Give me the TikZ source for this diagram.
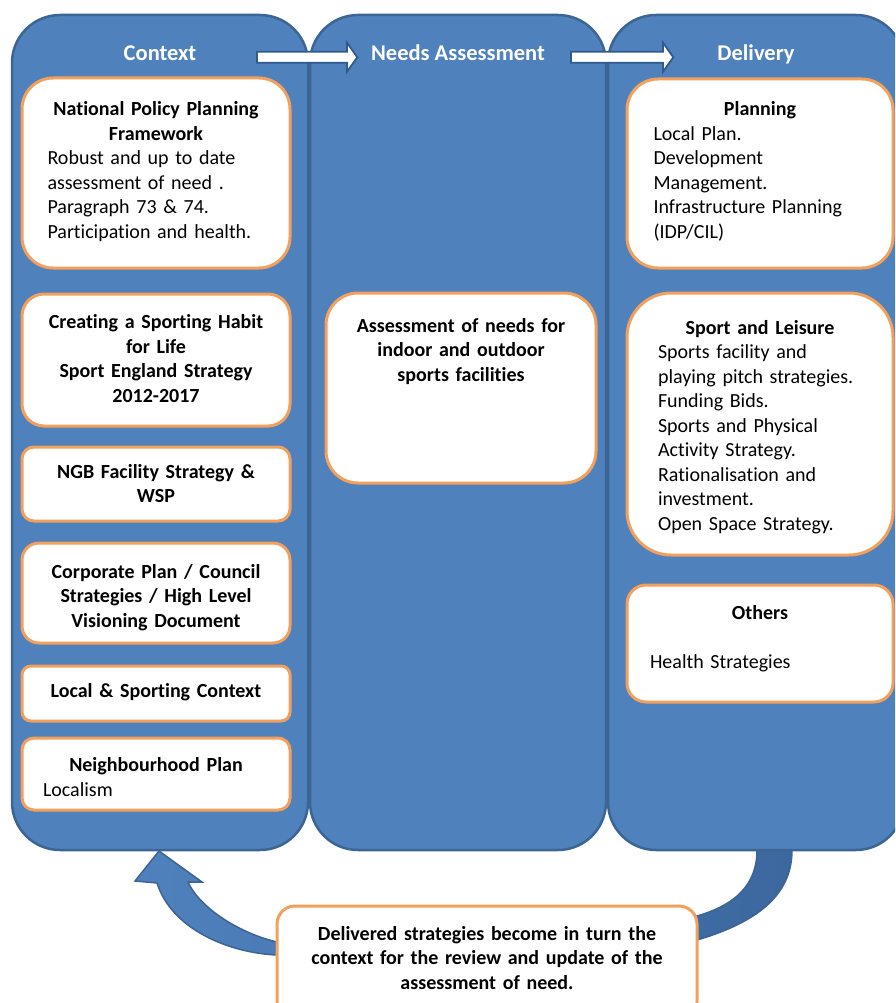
\documentclass[tikz,border=0pt]{standalone}
\usepackage{fontspec}
\setmainfont{Carlito}[Ligatures={NoCommon}]
\usetikzlibrary{positioning}

\definecolor{colfill}{HTML}{4F81BD}
\definecolor{colline}{HTML}{3A6594}
\definecolor{cardline}{HTML}{F2A05C}
\definecolor{bandlight}{HTML}{4F81BD}
\definecolor{banddark}{HTML}{3C679F}
\definecolor{arrline}{HTML}{2F5A8E}

\tikzset{
  colbox/.style={draw=colline, line width=2.5pt, fill=colfill, rounded corners=48pt,
                 minimum width=296pt, minimum height=835pt, inner sep=0pt},
  headtxt/.style={text=white, font=\fontsize{22.5}{27}\selectfont\bfseries, anchor=base, inner sep=0pt},
  card/.style={draw=cardline, line width=3pt, fill=white, rounded corners=#1, inner sep=0pt},
  cardtxt/.style={font=\fontsize{20}{24.5}\selectfont, inner sep=0pt, anchor=base, align=left},
  cardhead/.style={font=\fontsize{20}{24.5}\selectfont\bfseries, inner sep=0pt, anchor=base,
                   align=center, text width=250pt},
  hdrarrow/.style={draw=arrline, line width=1.8pt, fill=white, line join=miter},
  band/.style={draw=colline, line width=1.5pt, left color=bandlight, right color=banddark}
}

\begin{document}
\begin{tikzpicture}[x=1pt, y=-1pt]
\useasboundingbox (0,0) rectangle (895,1003);
\clip (0,0) rectangle (895,1003);

% loop back from delivery to context
\draw[band] (757,840) -- (757,850) .. controls (757,885) and (735,905) .. (697,916)
  -- (277,942) .. controls (235,932) and (198,905) .. (188,882)
  -- (202,882) -- (159,851) -- (135,881) -- (157,883)
  .. controls (172,930) and (230,953) .. (277,955)
  -- (697,940) .. controls (765,920) and (792,890) .. (792,850) -- (792,840) -- cycle;

% the three columns
\node[colbox] (ctxcol)  at (160,432.5) {};
\node[colbox] (needcol) at (458,432.5) {};
\node[colbox] (delcol)  at (756,432.5) {};

\node[headtxt] (ctx)  at (160,61) {Context};
\node[headtxt] (need) at (458,61) {Needs Assessment};
\node[headtxt] (del)  at (756,61) {Delivery};

\coordinate (arrA) at (257,57.3);
\coordinate (arrB) at (571,57.3);
\draw[hdrarrow] (arrA) ++(0,-5.6) -- ++(90,0) -- ++(0,-9) -- ++(10.3,14.6)
  -- ++(-10.3,14.4) -- ++(0,-9) -- ++(-90,0) -- cycle;
\draw[hdrarrow] (arrB) ++(0,-5.6) -- ++(92,0) -- ++(0,-9) -- ++(10.3,14.6)
  -- ++(-10.3,14.4) -- ++(0,-9) -- ++(-92,0) -- cycle;

% context
\node[card=31pt, minimum width=268pt, minimum height=190pt] (nppf) at (156,173) {};
\node[cardtxt, text width=217pt] (nppftxt) at (156,116)
  {{\centering\bfseries National Policy Planning\\ Framework\par}Robust and up to date\\
   assessment of need .\\ Paragraph 73 \& 74.\\ Participation and health.};

\node[card=22pt, minimum width=268pt, minimum height=132pt] (habit) at (156,360) {};
\node[cardhead] (habittxt) at (156,328.5)
  {Creating a Sporting Habit\\ for Life\\ Sport England Strategy\\ 2012-2017};

\node[card=12pt, minimum width=268pt, minimum height=74pt] (ngb) at (156,484) {};
\node[cardhead] (ngbtxt) at (156,478) {NGB Facility Strategy \&\\ WSP};

\node[card=17pt, minimum width=268pt, minimum height=100pt] (corp) at (156,593) {};
\node[cardhead] (corptxt) at (156,578)
  {Corporate Plan / Council\\ Strategies / High Level\\ Visioning Document};

\node[card=9pt, minimum width=268pt, minimum height=55pt] (local) at (156,693.5) {};
\node[cardhead] (localtxt) at (156,697.5) {Local \& Sporting Context};

\node[card=12pt, minimum width=268pt, minimum height=72pt] (neigh) at (156,774) {};
\node[cardtxt, text width=226pt] (neightxt) at (156,771.5)
  {{\centering\bfseries Neighbourhood Plan\par}Localism};

% needs assessment
\node[card=32pt, minimum width=270pt, minimum height=190pt] (assess) at (461,388) {};
\node[cardhead] (assesstxt) at (461,332)
  {Assessment of needs for\\ indoor and outdoor\\ sports facilities};

% delivery
\node[card=31pt, minimum width=266pt, minimum height=189pt] (plan) at (760,173.5) {};
\node[cardtxt, text width=213pt] (plantxt) at (760,116)
  {{\centering\bfseries Planning\par}Local Plan.\\ Development\\ Management.\\
   Infrastructure Planning\\ (IDP/CIL)};

\node[card=44pt, minimum width=266pt, minimum height=262pt] (sport) at (760,424) {};
\node[cardtxt, text width=204pt] (sporttxt) at (760,334)
  {{\centering\bfseries Sport and Leisure\par}Sports facility and\\ playing pitch strategies.\\
   Funding Bids.\\ Sports and Physical\\ Activity Strategy.\\ Rationalisation and\\
   investment.\\ Open Space Strategy.};

\node[card=19pt, minimum width=266pt, minimum height=117pt] (others) at (760,643.5) {};
\node[cardtxt, text width=220pt] (otherstxt) at (760,619)
  {{\centering\bfseries Others\par}\mbox{}\\ Health Strategies};

% feedback note
\node[card=18pt, minimum width=420pt, minimum height=114pt] (loop) at (487,963) {};
\node[cardhead, text width=400pt] (looptxt) at (487,940)
  {Delivered strategies become in turn the\\ context for the review and update of the\\
   assessment of need.};

\end{tikzpicture}
\end{document}
